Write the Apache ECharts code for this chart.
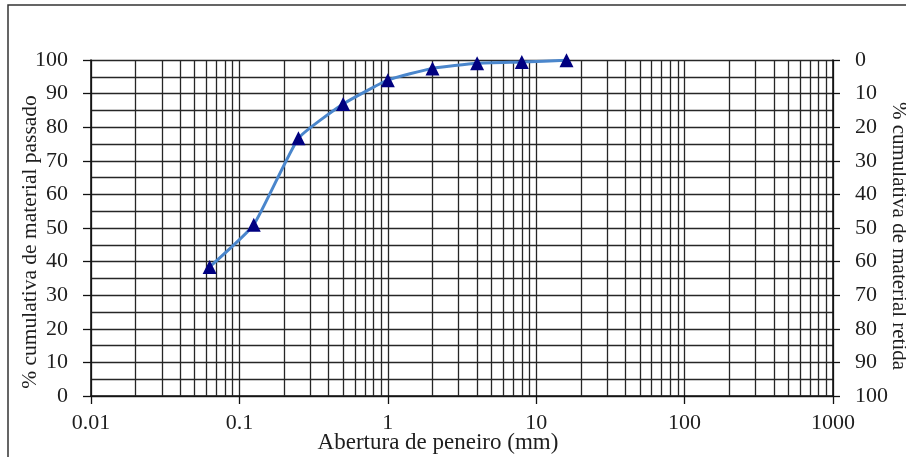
<!DOCTYPE html>
<html>
<head>
<meta charset="utf-8">
<script src="https://cdn.jsdelivr.net/npm/echarts@6/dist/echarts.min.js"></script>
<style>
    html, body { margin: 0; padding: 0; background: #fff; }
    #chart { width: 906px; height: 457px; }
</style>
</head>
<body>
<div id="chart"></div>
<script>
// abertura de peneiro (mm) e % passado
const sieveSizes = [0.063, 0.125, 0.25, 0.5, 1, 2, 4, 8, 16]
const passing = [38.4, 51.0, 76.7, 86.9, 94.0, 97.5, 99.0, 99.4, 99.9]

const decades = [0.01, 0.1, 1, 10, 100]
const minorSteps = [2, 3, 4, 5, 6, 7, 8, 9]

const FONT = '"Liberation Serif", "Times New Roman", serif'
const GRID_COLOR = '#262626'
const GRID_WIDTH = 1.3
const TEXT_COLOR = '#1e1e1e'

const minorLines = []
decades.forEach(d => {
    minorSteps.forEach(m => minorLines.push({ xAxis: d * m }))
})

const chart = echarts.init(document.getElementById('chart'))

chart.setOption({
    animation: false,
    textStyle: { fontFamily: FONT },
    grid: { left: 91, right: 73, top: 60, bottom: 61, outerBoundsMode: 'none' },
    graphic: [
        {
            type: 'rect',
            shape: { x: 8, y: 5, width: 1000, height: 1000 },
            style: { fill: 'none', stroke: '#333', lineWidth: 1.5 },
            silent: true,
        },
    ],
    xAxis: {
        type: 'log',
        logBase: 10,
        min: 0.01,
        max: 1000,
        name: 'Abertura de peneiro (mm)',
        nameLocation: 'middle',
        nameGap: 35,
        nameMoveOverlap: false,
        nameTextStyle: { color: TEXT_COLOR, fontSize: 23, fontFamily: FONT, padding: [0, 48, 0, 0] },
        axisLine: { lineStyle: { color: '#111', width: 1.6 } },
        axisTick: { show: true, length: 8, lineStyle: { color: '#111', width: 1.3 } },
        axisLabel: {
            color: TEXT_COLOR,
            fontSize: 22,
            fontFamily: FONT,
            margin: 16,
            formatter: v => String(+v.toPrecision(6)),
        },
        splitLine: { show: true, lineStyle: { color: GRID_COLOR, width: GRID_WIDTH } },
    },
    yAxis: [
        {
            type: 'value',
            min: 0,
            max: 100,
            interval: 10,
            name: '% cumulativa de material passado',
            nameLocation: 'middle',
            nameGap: 50,
            nameMoveOverlap: false,
            nameTextStyle: { color: TEXT_COLOR, fontSize: 21.5, fontFamily: FONT, padding: [0, 28, 0, 0] },
            axisLine: { show: true, lineStyle: { color: '#111', width: 1.6 } },
            axisTick: { show: true, length: 8, lineStyle: { color: '#111', width: 1.3 } },
            axisLabel: { color: TEXT_COLOR, fontSize: 22, fontFamily: FONT, margin: 23 },
            splitLine: { show: true, lineStyle: { color: GRID_COLOR, width: GRID_WIDTH } },
            minorTick: { show: false, splitNumber: 2 },
            minorSplitLine: { show: true, lineStyle: { color: GRID_COLOR, width: GRID_WIDTH } },
        },
        {
            type: 'value',
            min: 0,
            max: 100,
            interval: 10,
            inverse: true,
            position: 'right',
            name: '% cumulativa de material retida',
            nameLocation: 'middle',
            nameGap: 55,
            nameMoveOverlap: false,
            nameRotate: -90,
            nameTextStyle: { color: TEXT_COLOR, fontSize: 21, fontFamily: FONT, padding: [0, 0, 0, 16] },
            axisLine: { show: true, lineStyle: { color: '#111', width: 1.6 } },
            axisTick: { show: true, length: 7, lineStyle: { color: '#111', width: 1.3 } },
            axisLabel: { color: TEXT_COLOR, fontSize: 22, fontFamily: FONT, margin: 22 },
            splitLine: { show: false },
        },
    ],
    series: [
        {
            type: 'line',
            yAxisIndex: 0,
            data: sieveSizes.map((s, i) => [s, passing[i]]),
            smooth: 0.15,
            symbol: 'triangle',
            symbolSize: 14,
            itemStyle: { color: '#000080' },
            lineStyle: { color: '#4a86cc', width: 3 },
            z: 5,
            markLine: {
                silent: true,
                symbol: 'none',
                label: { show: false },
                animation: false,
                lineStyle: { color: GRID_COLOR, width: GRID_WIDTH, type: 'solid' },
                data: minorLines,
                z: 1,
            },
        },
    ],
})
</script>
</body>
</html>
